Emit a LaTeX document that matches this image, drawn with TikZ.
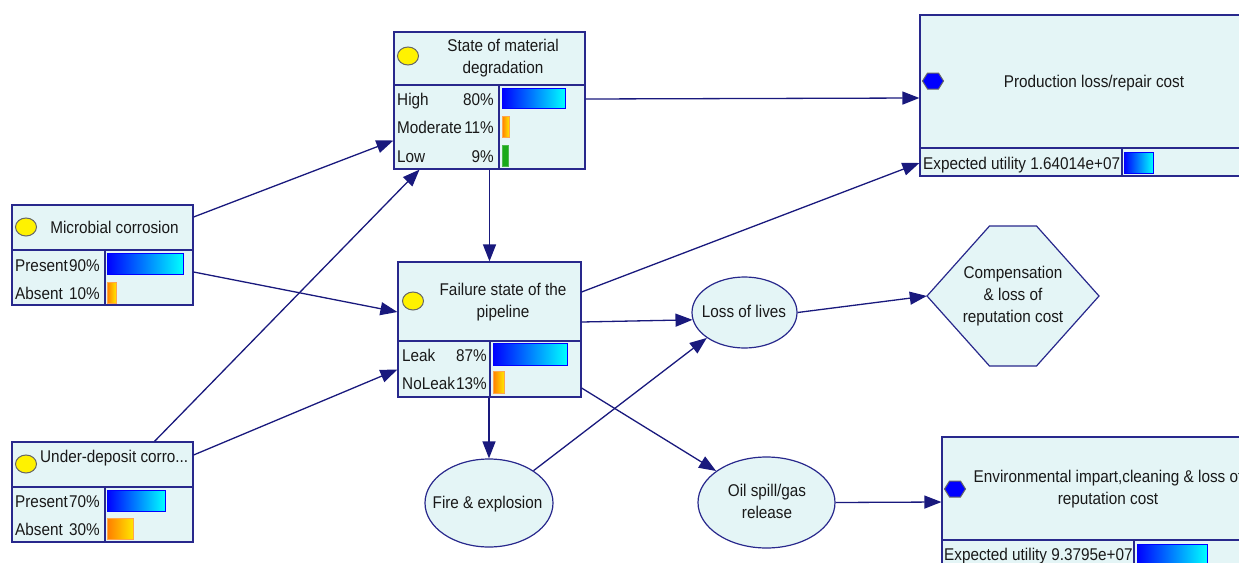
\documentclass[tikz,border=0pt]{standalone}
\usepackage{fontspec}
\setmainfont{Liberation Sans}[FakeStretch=0.9]
\usetikzlibrary{shapes.geometric,arrows.meta}

\definecolor{netline}{RGB}{40,40,140}
\definecolor{linkcol}{RGB}{25,25,125}
\definecolor{cellfill}{RGB}{228,245,246}
\definecolor{barorange}{RGB}{255,125,0}
\definecolor{baryellow}{RGB}{255,230,0}
\definecolor{bargreen}{RGB}{25,170,25}

\tikzset{
	box/.style={draw=netline, fill=cellfill, line width=1.2pt, inner sep=0pt},
	chance/.style={ellipse, draw=netline, fill=cellfill, line width=1.2pt, inner sep=0pt},
	txt/.style={inner sep=0pt, text=black!90},
	sep/.style={draw=netline, line width=1.2pt},
	link/.style={draw=linkcol, line width=1.3pt, >={Triangle[length=17pt,width=13pt]}},
	bulb/.style={draw=black!60, fill=yellow, line width=1pt},
	hexicon/.style={draw=black!60, fill=blue, line width=1pt},
	bluebar/.style={draw=blue, left color=blue, right color=cyan, line width=0.8pt},
	orangebar/.style={draw=orange!70, left color=barorange, right color=baryellow, line width=0.8pt},
	greenbar/.style={draw=green!60!black!70, fill=bargreen, line width=0.8pt}
}

\begin{document}
\begin{tikzpicture}[x=1pt, y=-1pt, font=\fontsize{17}{22}\selectfont]
	\useasboundingbox (0,0) rectangle (1239,562);
	\clip (0,0) rectangle (1239,562);

	\node[box] (smd) at (489.5,100.5) [minimum width=191pt, minimum height=137pt] {};
	\node[box] (mc) at (102.5,255) [minimum width=181pt, minimum height=100pt] {};
	\node[box] (udc) at (102.5,492) [minimum width=181pt, minimum height=100pt] {};
	\node[box] (fs) at (489.5,329.5) [minimum width=183pt, minimum height=135pt] {};
	\node[box] (pl) at (1090,95.5) [minimum width=340pt, minimum height=161pt] {};
	\node[box] (ei) at (1101,518.5) [minimum width=318pt, minimum height=163pt] {};
		\node[chance] (ll) at (744.5,312.5) [minimum width=105pt, minimum height=71pt] {};
		\node[chance] (fire) at (489,503) [minimum width=128pt, minimum height=88pt] {};
		\node[chance] (oil) at (766.5,502.5) [minimum width=137pt, minimum height=91pt] {};
	\filldraw[sep, fill=cellfill] (927,296) -- (989.5,226) -- (1036.5,226) -- (1099,296) -- (1036.5,366) -- (989.5,366) -- cycle;
		\node[txt, align=center] (comp) at (1013,296) [minimum width=172pt, minimum height=140pt] {Compensation\\\& loss of\\reputation cost};

	\draw[sep] (394,85) -- (585,85);
	\draw[sep] (499,85) -- (499,169);
	\draw[sep] (12,250) -- (193,250);
	\draw[sep] (105,250) -- (105,305);
	\draw[sep] (12,487) -- (193,487);
	\draw[sep] (105,487) -- (105,542);
	\draw[sep] (398,341) -- (581,341);
	\draw[sep] (490,341) -- (490,397);
	\draw[sep] (920,148) -- (1260,148);
	\draw[sep] (1122,148) -- (1122,176);
	\draw[sep] (942,540) -- (1260,540);
	\draw[sep] (1134,540) -- (1134,600);

	\draw[bulb] (408,56) ellipse [x radius=10.5pt, y radius=9pt];
	\draw[bulb] (26,227) ellipse [x radius=10.5pt, y radius=9pt];
	\draw[bulb] (26,464) ellipse [x radius=10.5pt, y radius=9pt];
	\draw[bulb] (413,301) ellipse [x radius=10.5pt, y radius=9pt];
	\draw[hexicon] (922.5,81) -- (927.5,73) -- (938.5,73) -- (943.5,81) -- (938.5,89) -- (927.5,89) -- cycle;
	\draw[hexicon] (944.5,489) -- (949.5,481) -- (960.5,481) -- (965.5,489) -- (960.5,497) -- (949.5,497) -- cycle;

	\node[txt, align=center] (smdt) at (503,58.5) {State of material\\degradation};
	\node[txt, anchor=base west] (smd1) at (397,105) {High};
	\node[txt, anchor=base east] (smd1v) at (494,105) {80\%};
	\node[txt, anchor=base west] (smd2) at (397,133.5) {Moderate};
	\node[txt, anchor=base east] (smd2v) at (494,133.5) {11\%};
	\node[txt, anchor=base west] (smd3) at (397,162) {Low};
	\node[txt, anchor=base east] (smd3v) at (494,162) {9\%};
	\draw[bluebar] (502,88) rectangle (565,108);
	\draw[orangebar] (502,116) rectangle (509,137);
	\draw[greenbar] (502,145) rectangle (508,166);

	\node[txt, anchor=base] (mct) at (114.5,233) {Microbial corrosion};
	\node[txt, anchor=base west] (mc1) at (15,271) {Present};
	\node[txt, anchor=base east] (mc1v) at (100,271) {90\%};
	\node[txt, anchor=base west] (mc2) at (15,299) {Absent};
	\node[txt, anchor=base east] (mc2v) at (100,299) {10\%};
	\draw[bluebar] (107,253) rectangle (183,274);
	\draw[orangebar] (107,282) rectangle (116,303);

	\node[txt, anchor=base west] (udct) at (40,462) {Under-deposit corro...};
	\node[txt, anchor=base west] (udc1) at (15,507) {Present};
	\node[txt, anchor=base east] (udc1v) at (100,507) {70\%};
	\node[txt, anchor=base west] (udc2) at (15,535) {Absent};
	\node[txt, anchor=base east] (udc2v) at (100,535) {30\%};
	\draw[bluebar] (107,490) rectangle (165,511);
	\draw[orangebar] (107,518) rectangle (133,539);

	\node[txt, align=center] (fst) at (503,302) {Failure state of the\\pipeline};
	\node[txt, anchor=base west] (fs1) at (402,361) {Leak};
	\node[txt, anchor=base east] (fs1v) at (487,361) {87\%};
	\node[txt, anchor=base west] (fs2) at (402,389) {NoLeak};
	\node[txt, anchor=base east] (fs2v) at (487,389) {13\%};
	\draw[bluebar] (493,343) rectangle (567,365);
	\draw[orangebar] (493,371) rectangle (504,393);

	\node[txt, anchor=base] (plt) at (1094,87.5) {Production loss/repair cost};
	\node[txt, anchor=base west] (plu) at (923,169) {Expected utility 1.64014e+07};
	\draw[bluebar] (1124,152) rectangle (1153,173);

	\node[txt, align=center] (eit) at (1108,489) {Environmental impart,cleaning \& loss of\\reputation cost};
	\node[txt, anchor=base west] (eiu) at (944,560.7) {Expected utility 9.3795e+07};
	\draw[bluebar] (1137,544) rectangle (1207,575);

		\node[txt, anchor=base] (llt) at (744,317) {Loss of lives};
		\node[txt, anchor=base] (firet) at (487.5,508) {Fire \& explosion};
		\node[txt, align=center] (oilt) at (767,501) {Oil spill/gas\\release};

	\draw[link][->] ([yshift=38pt]mc.east) to ([yshift=-40pt]smd.west);
	\draw[link][->] ([yshift=-17pt]mc.east) to ([yshift=17.5pt]fs.west);
	\draw[link][->] ([xshift=52pt]udc.north) to ([xshift=-70pt]smd.south);
	\draw[link][->] ([yshift=37pt]udc.east) to ([yshift=-40pt]fs.west);
	\draw[link][->] ([yshift=1.5pt]smd.east) to ([yshift=-2.5pt]pl.west);
	\draw[link][->] (smd.south) to (fs.north);
	\draw[link][->] ([yshift=37.5pt]fs.east) to ([yshift=-67.5pt]pl.west);
	\draw[link][->] ([yshift=7.5pt]fs.east) to (ll.188);
	\draw[link][->] ([xshift=-0.5pt]fs.south) to (fire.north);
	\draw[link][->] ([yshift=-58.5pt]fs.east) to (oil.148);
	\draw[link][->] (fire.36) to (ll.214);
	\draw[link][->] (ll.east) to (comp.west);
	\draw[link][->] (oil.east) to ([yshift=16.5pt]ei.west);
\end{tikzpicture}
\end{document}
